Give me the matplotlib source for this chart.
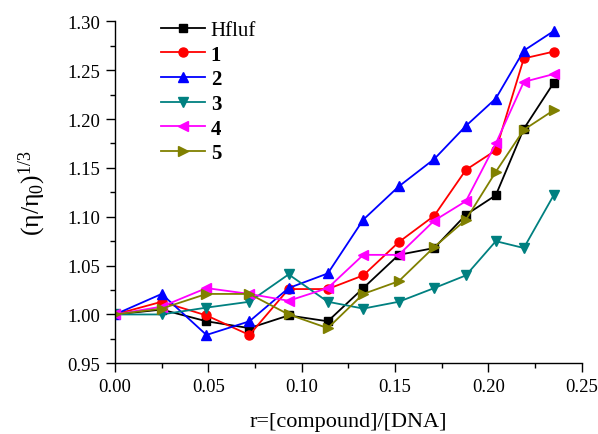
import numpy as np
import matplotlib
matplotlib.use("Agg")
import matplotlib.pyplot as plt

plt.rcParams['font.family'] = ['Liberation Serif', 'DejaVu Serif']
plt.rcParams['mathtext.fontset'] = 'custom'
plt.rcParams['mathtext.rm'] = 'Liberation Serif'
plt.rcParams['mathtext.it'] = 'Liberation Serif:italic'

# r = [compound]/[DNA]
r = [0.0, 0.025, 0.049, 0.072, 0.093, 0.114, 0.133, 0.152, 0.171, 0.188, 0.204, 0.219, 0.235]

# relative viscosity (eta/eta0)^(1/3)
hfluf = [1.000, 1.005, 0.993, 0.986, 0.999, 0.993, 1.027, 1.061, 1.068, 1.102, 1.122, 1.190, 1.237]
c1 = [1.000, 1.013, 0.999, 0.979, 1.026, 1.026, 1.040, 1.074, 1.101, 1.148, 1.168, 1.262, 1.269]
c2 = [1.000, 1.021, 0.979, 0.993, 1.027, 1.042, 1.097, 1.131, 1.159, 1.193, 1.221, 1.270, 1.290]
c3 = [1.000, 1.000, 1.007, 1.013, 1.041, 1.013, 1.006, 1.013, 1.027, 1.040, 1.075, 1.068, 1.122]
c4 = [1.000, 1.008, 1.027, 1.021, 1.014, 1.027, 1.061, 1.061, 1.096, 1.116, 1.175, 1.238, 1.246]
c5 = [1.000, 1.006, 1.021, 1.021, 1.000, 0.986, 1.021, 1.034, 1.069, 1.097, 1.146, 1.189, 1.209]

labels = ['Hfluf', '1', '2', '3', '4', '5']
series = [hfluf, c1, c2, c3, c4, c5]
colors = ['black', '#ff0000', '#0000ff', '#008080', '#ff00ff', '#808000']
markers = ['s', 'o', '^', 'v', '<', '>']
msizes = [5.5, 6.5, 7, 7, 7, 7]

fig = plt.figure(figsize=(5.98, 4.35), dpi=100)
ax = fig.add_axes([0.1923, 0.1625, 0.7804, 0.7862])

for y, lab, col, mk, ms in zip(series, labels, colors, markers, msizes):
    ax.plot(r, y, color=col, marker=mk, markersize=ms, linewidth=1.3, label=lab)

ax.set_xlim(0, 0.25)
ax.set_ylim(0.95, 1.30)
ax.set_xticks(np.arange(0, 0.251, 0.05))
ax.set_xticks(np.arange(0.025, 0.25, 0.05), minor=True)
ax.set_yticks(np.arange(0.95, 1.301, 0.05))
ax.set_yticks(np.arange(0.975, 1.30, 0.05), minor=True)
ax.xaxis.set_major_formatter(matplotlib.ticker.FormatStrFormatter('%.2f'))
ax.yaxis.set_major_formatter(matplotlib.ticker.FormatStrFormatter('%.2f'))

for side in ['top', 'right']:
    ax.spines[side].set_visible(False)
for side in ['left', 'bottom']:
    ax.spines[side].set_linewidth(1.0)
ax.tick_params(which='major', direction='out', length=6.5, width=1.0, labelsize=13.5, pad=4)
ax.tick_params(which='minor', direction='out', length=3.6, width=1.0)

ax.set_xlabel('r=[compound]/[DNA]', fontsize=16, labelpad=12)
ax.set_ylabel(r'(η/η$_\mathrm{0}$)$^\mathrm{1/3}$', fontsize=18.5, labelpad=14)

leg = ax.legend(loc='upper left', bbox_to_anchor=(0.08, 1.027), frameon=False,
                fontsize=15, handlelength=2.15, handletextpad=0.25, labelspacing=0.225,
                borderaxespad=0)
for t in leg.get_texts()[1:]:
    t.set_fontweight('bold')

fig.savefig('out.png', dpi=100)
